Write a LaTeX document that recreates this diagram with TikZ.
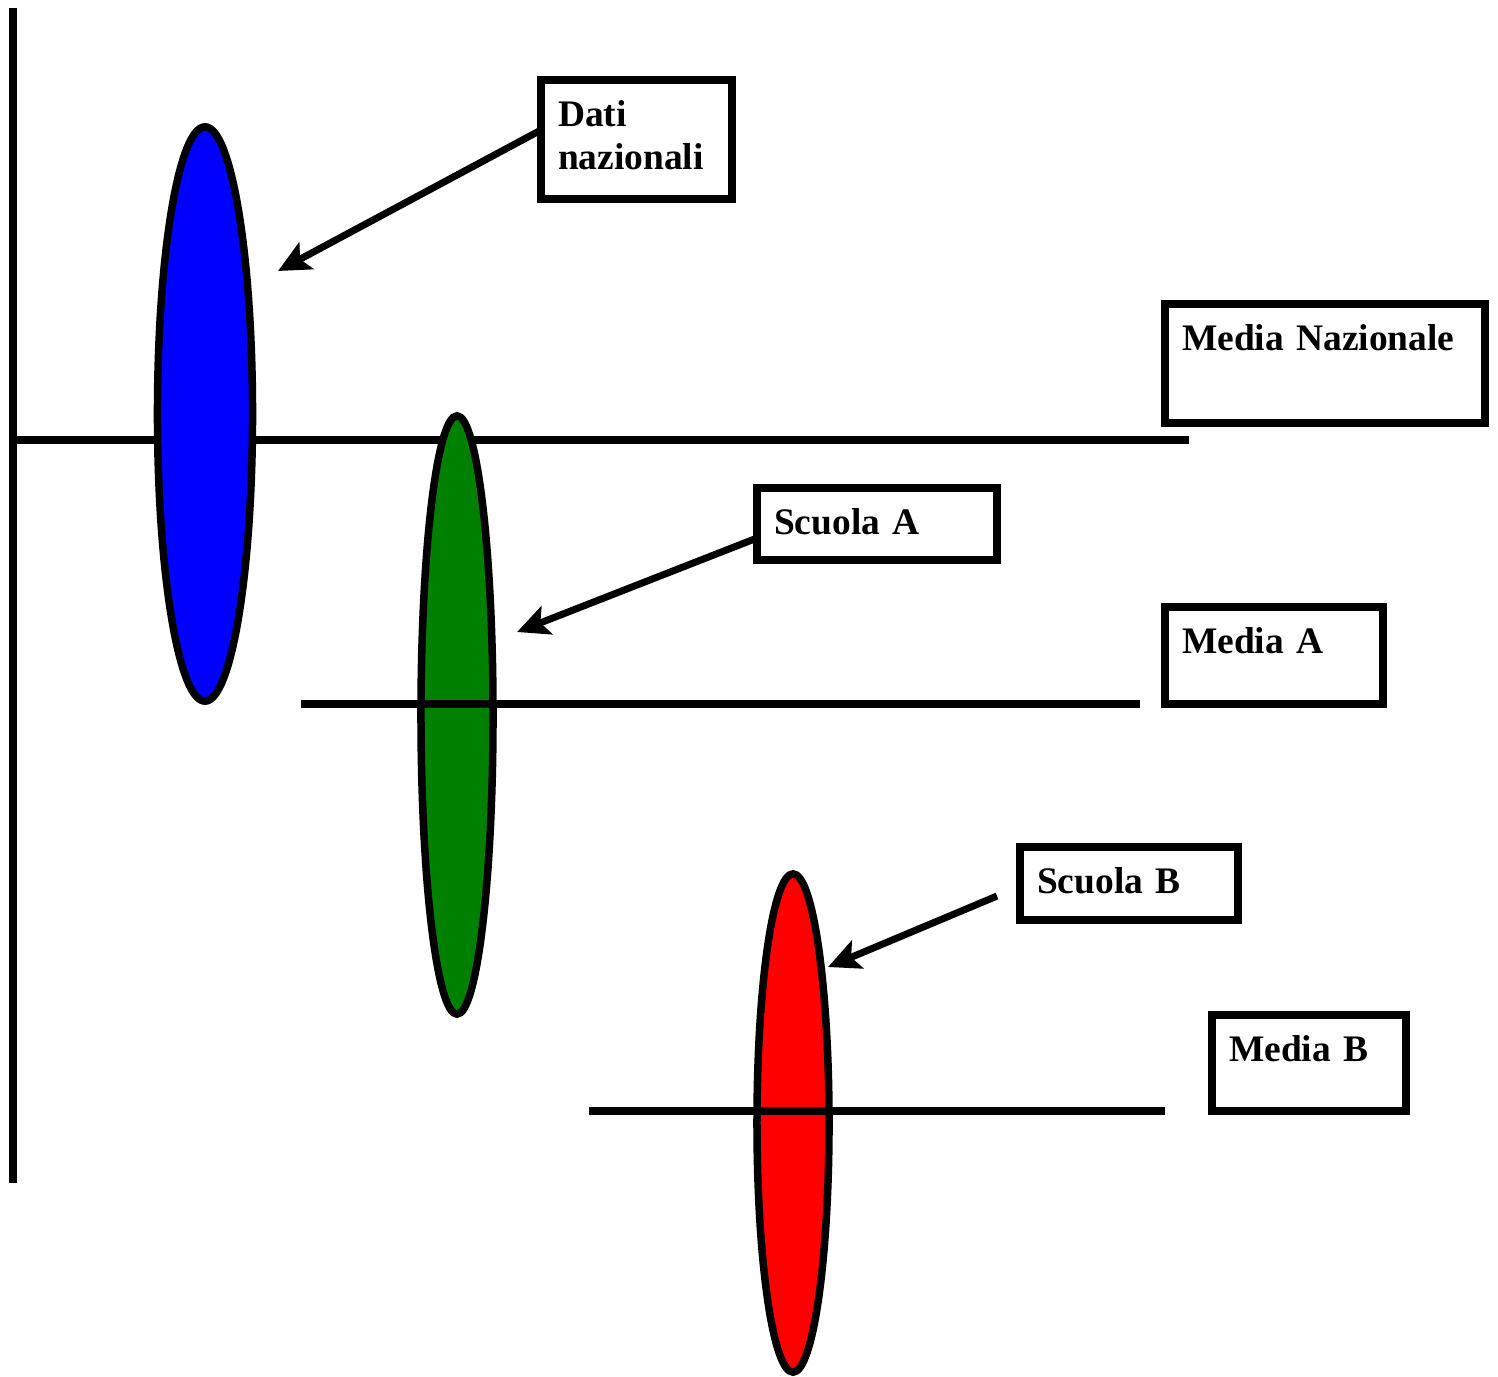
\documentclass[tikz,border=0pt]{standalone}
\usepackage{fontspec}
\setmainfont{Liberation Serif}
\usetikzlibrary{shapes.geometric,arrows.meta,positioning,calc}

\definecolor{verdeScuola}{RGB}{0,128,0}

\tikzset{
  linea/.style={line width=0.08cm},
  distribuzione/.style={ellipse, draw, line width=0.075cm, inner sep=0pt, outer sep=0pt},
  etichetta/.style={draw, line width=0.08cm, anchor=north west, outer sep=0pt,
    inner xsep=0.17cm, inner ysep=0.1cm, text height=0.36cm, align=left,
    font=\fontsize{10.65}{12.5}\selectfont\bfseries},
  freccia/.style={line width=0.07cm, -{Stealth[length=0.32cm, width=0.3cm, inset=0.07cm]}}
}

\begin{document}
\begin{tikzpicture}[x=0.01cm, y=-0.01cm]
        \useasboundingbox (0,0) rectangle (1498,1376);

        % Axis and national mean
        \draw[linea] (13,8) -- (13,1183);
        \draw[linea] (13,440) -- (1189,440);

        % Distributions
        \node[distribuzione, fill=blue, minimum width=0.95cm, minimum height=5.74cm] (naz) at (205,414) {};
        \node[distribuzione, fill=verdeScuola, minimum width=0.72cm, minimum height=5.98cm] (scA) at (457,715) {};
        \node[distribuzione, fill=red, minimum width=0.72cm, minimum height=4.98cm] (scB) at (793,1123) {};

        % School means
        \draw[linea] (301,704) -- (1140,704);
        \draw[linea] (589,1111) -- (1165,1111);

        % Labels
        \node[etichetta, text width=1.57cm, text depth=0.63cm] (dati) at (541,80) {Dati\\nazionali};
        \node[etichetta, text width=2.86cm, text depth=0.63cm] (mediaNaz) at (1165,304) {Media Nazionale};
        \node[etichetta, text width=2.06cm, text depth=0.16cm] (scuolaA) at (757,488) {Scuola A};
        \node[etichetta, text width=1.84cm, text depth=0.41cm] (mediaA) at (1165,607) {Media A};
        \node[etichetta, text width=1.84cm, text depth=0.17cm] (scuolaB) at (1020,847) {Scuola B};
        \node[etichetta, text width=1.60cm, text depth=0.40cm] (mediaB) at (1212,1015) {Media B};

        % Arrows
        \coordinate (punta naz) at (278,271);
        \coordinate (punta A) at (517,632);
        \coordinate (punta B) at (828,967);
        \draw[freccia] ([yshift=0.095cm]dati.west) -- (punta naz);
        \draw[freccia] ([yshift=-0.14cm]scuolaA.west) -- (punta A);
        \draw[freccia] ([xshift=-0.23cm, yshift=-0.125cm]scuolaB.west) -- (punta B);
    \end{tikzpicture}
\end{document}
